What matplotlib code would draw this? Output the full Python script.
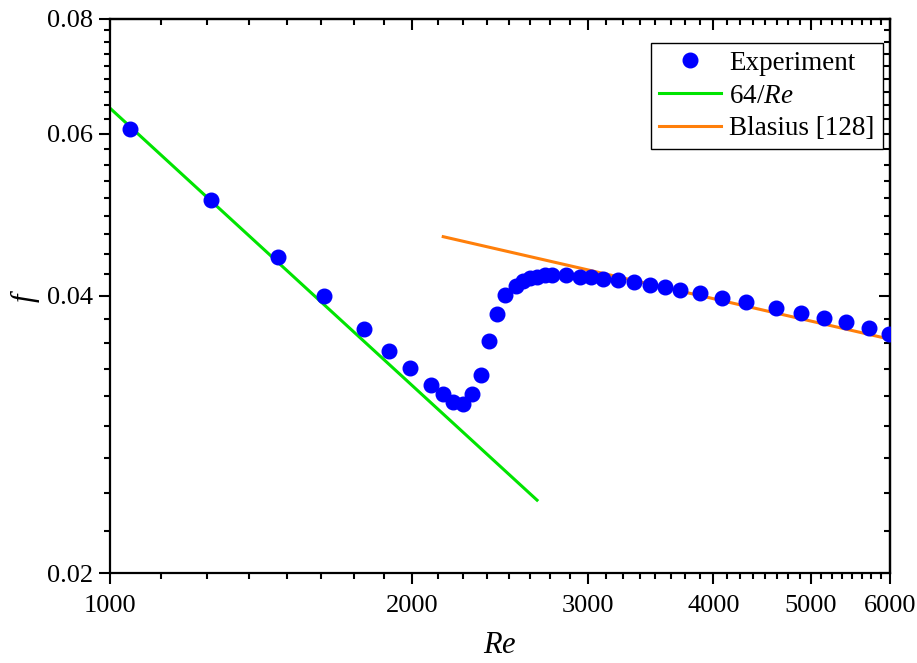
import numpy as np
import matplotlib
matplotlib.use("Agg")
import matplotlib.pyplot as plt
from matplotlib.ticker import FixedLocator, NullFormatter, FixedFormatter

plt.rcParams["font.family"] = ["Liberation Serif", "DejaVu Serif"]
plt.rcParams["mathtext.fontset"] = "custom"
plt.rcParams["mathtext.rm"] = "Liberation Serif"
plt.rcParams["mathtext.it"] = "Liberation Serif:italic"

re_exp = [1047, 1261, 1470, 1635, 1792, 1898, 1992, 2092, 2147, 2200,
          2248, 2299, 2343, 2390, 2433, 2476, 2541, 2581, 2624, 2669,
          2716, 2762, 2849, 2941, 3019, 3101, 3210, 3335, 3457, 3579,
          3701, 3878, 4079, 4311, 4615, 4894, 5156, 5419, 5714, 5990]
f_exp = [0.0607, 0.0509, 0.0441, 0.0400, 0.0368, 0.0349, 0.0334, 0.0320, 0.0313, 0.0307,
         0.0305, 0.0313, 0.0328, 0.0357, 0.0382, 0.0401, 0.0410, 0.0415, 0.0418, 0.0420,
         0.0422, 0.0422, 0.0422, 0.0420, 0.0419, 0.0417, 0.0416, 0.0414, 0.0411, 0.0409,
         0.0406, 0.0403, 0.0398, 0.0394, 0.0388, 0.0383, 0.0379, 0.0375, 0.0369, 0.0364]

# 64/Re laminar line (end points)
re_lam = [1000, 2667]
f_lam = [0.0640, 0.0240]

# Blasius correlation (end points)
re_bl = [2150, 6000]
f_bl = [0.0464, 0.0359]

xticks = [1000, 2000, 3000, 4000, 5000, 6000]
yticks = [0.02, 0.04, 0.06, 0.08]
xminor = np.arange(1000, 6001, 125)
yminor = 0.02 + np.arange(28) * 0.02 / 9

fig = plt.figure(figsize=(9.17, 6.63), dpi=100)
ax = fig.add_axes([110 / 917, 1 - 573 / 663, 780 / 917, 554 / 663])

ax.plot(re_lam, f_lam, color="#00e400", lw=2.2, label="64/$Re$", zorder=2)
ax.plot(re_bl, f_bl, color="#ff7f0a", lw=2.2, label="Blasius [128]", zorder=2)
ax.plot(re_exp, f_exp, "o", color="#0000ff", ms=10.5, mec="#0000ff",
        label="Experiment", zorder=3)

ax.set_xscale("log")
ax.set_yscale("log")
ax.set_xlim(1000, 6000)
ax.set_ylim(0.02, 0.08)

ax.xaxis.set_major_locator(FixedLocator(xticks))
ax.xaxis.set_major_formatter(FixedFormatter([str(t) for t in xticks]))
ax.xaxis.set_minor_locator(FixedLocator(xminor))
ax.xaxis.set_minor_formatter(NullFormatter())
ax.yaxis.set_major_locator(FixedLocator(yticks))
ax.yaxis.set_major_formatter(FixedFormatter(["0.02", "0.04", "0.06", "0.08"]))
ax.yaxis.set_minor_locator(FixedLocator(yminor))
ax.yaxis.set_minor_formatter(NullFormatter())

ax.tick_params(which="major", direction="out", length=8, width=1.5, labelsize=19)
ax.tick_params(which="minor", direction="out", length=4, width=1.5)
ax.tick_params(axis="x", which="major", pad=8)
ax.tick_params(axis="y", which="major", pad=4)

for s in ax.spines.values():
    s.set_linewidth(1.6)

# top / right axes with inward ticks
ident = (lambda v: v, lambda v: v)
top = ax.secondary_xaxis("top", functions=ident)
top.xaxis.set_major_locator(FixedLocator(xticks))
top.xaxis.set_minor_locator(FixedLocator(xminor))
top.xaxis.set_major_formatter(NullFormatter())
top.xaxis.set_minor_formatter(NullFormatter())
top.tick_params(which="major", direction="in", length=8, width=1.5)
top.tick_params(which="minor", direction="in", length=4, width=1.5)
top.spines["top"].set_linewidth(1.6)

right = ax.secondary_yaxis("right", functions=ident)
right.yaxis.set_major_locator(FixedLocator(yticks))
right.yaxis.set_minor_locator(FixedLocator(yminor))
right.yaxis.set_major_formatter(NullFormatter())
right.yaxis.set_minor_formatter(NullFormatter())
right.tick_params(which="major", direction="in", length=8, width=1.5)
right.tick_params(which="minor", direction="in", length=4, width=1.5)
right.spines["right"].set_linewidth(1.6)

ax.set_xlabel("$Re$", fontsize=22, labelpad=10)
ax.set_ylabel("$f$", fontsize=22, labelpad=4)

handles, labels = ax.get_legend_handles_labels()
order = [2, 0, 1]
leg = ax.legend([handles[i] for i in order], [labels[i] for i in order],
                loc="upper right", bbox_to_anchor=(0.991, 0.957), borderaxespad=0,
                fontsize=19.5, numpoints=1, fancybox=False, framealpha=1,
                edgecolor="black", handlelength=2.3, handletextpad=0.3,
                labelspacing=0.28, borderpad=0.3)
leg.get_frame().set_linewidth(1.0)

fig.savefig("out.png", dpi=100)
